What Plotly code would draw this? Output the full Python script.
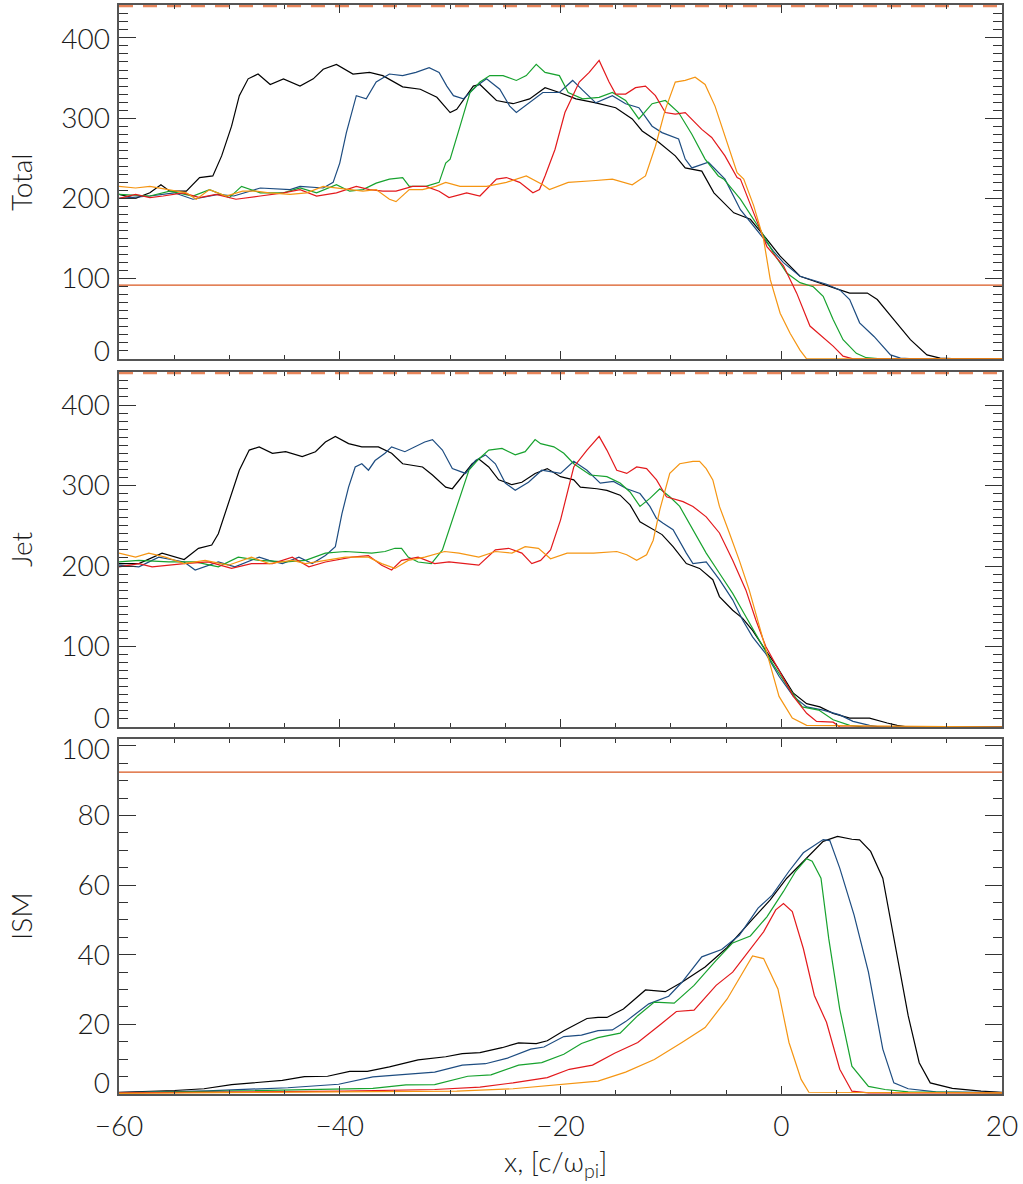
import plotly.graph_objects as go

# ---------------- data: Total panel ----------------
tot_black_x = [-60, -58.5, -57.2, -56.2, -55.4, -53.9, -52.7, -51.5, -50.7, -49.8, -49.1, -48.3, -47.4, -46.3, -45.1, -43.6, -42.4, -41.5, -40.3, -38.8, -37.3, -36.1, -34.3, -32.7, -31.2, -30.0, -29.4, -27.9, -27.3, -25.8, -24.3, -22.8, -21.4, -20.1, -18.6, -16.8, -15.0, -13.5, -12.6, -11.1, -9.6, -8.7, -7.2, -6.1, -4.3, -2.8, -1.3, -0.1, 1.7, 2.6, 3.8, 5.3, 6.2, 7.8, 8.7, 10.2, 11.7, 13.2, 14.4, 16, 20]
tot_black_y = [205, 200, 207, 217, 209, 209, 226, 228, 253, 290, 328, 349, 355, 342, 349, 340, 349, 361, 367, 355, 357, 353, 339, 336, 326, 307, 311, 340, 342, 322, 318, 324, 338, 332, 324, 319, 313, 299, 284, 270, 253, 238, 234, 207, 182, 174, 149, 128, 103, 99, 93, 86, 82, 82, 74, 49, 24, 5, 1, 0, 0]

tot_blue_x = [-60, -57.2, -55, -53.3, -51, -49.6, -47.2, -44.5, -43.6, -41.5, -40.6, -40.0, -39.4, -38.5, -37.6, -36.7, -35.5, -34.3, -33.1, -31.9, -31.0, -30.3, -29.7, -28.8, -27.6, -26.7, -25.5, -24.6, -24.0, -22.8, -21.6, -20.1, -18.9, -18.0, -16.8, -15.3, -14.1, -12.9, -11.7, -10.8, -9.3, -8.7, -8.1, -6.6, -5.1, -3.7, -2.5, -1.3, -0.7, 0.2, 1.7, 4.1, 5.3, 6.2, 7.1, 8.4, 9.9, 10.8, 12, 20]
tot_blue_y = [200, 203, 207, 199, 205, 203, 213, 211, 215, 213, 220, 244, 282, 328, 324, 345, 355, 353, 357, 363, 357, 340, 328, 324, 340, 349, 336, 315, 307, 319, 332, 332, 347, 335, 319, 328, 318, 313, 290, 282, 274, 249, 238, 245, 224, 186, 166, 145, 134, 120, 103, 93, 86, 74, 45, 28, 5, 1, 0, 0]

tot_green_x = [-60, -57.2, -55.4, -53.3, -51.8, -50.0, -48.9, -47.2, -45.1, -43.6, -42.1, -40.3, -39.1, -37.9, -36.7, -35.5, -34.3, -33.7, -32.2, -31.0, -30.4, -30.0, -29.1, -28.2, -27.3, -26.4, -25.2, -24.0, -23.1, -22.2, -21.4, -20.1, -19.3, -18.0, -16.5, -15.3, -14.1, -12.9, -11.7, -10.5, -9.3, -8.1, -6.9, -5.7, -5.2, -3.7, -1.9, -0.7, 0.5, 1.7, 2.9, 3.8, 4.7, 5.6, 6.8, 7.7, 9, 20]
tot_green_y = [205, 203, 209, 203, 211, 201, 215, 207, 207, 213, 207, 217, 209, 211, 219, 224, 226, 215, 215, 220, 244, 249, 290, 332, 345, 353, 353, 347, 353, 367, 357, 353, 332, 324, 326, 332, 322, 299, 318, 322, 307, 280, 249, 228, 224, 199, 161, 132, 107, 95, 90, 78, 49, 24, 7, 1.5, 0, 0]

tot_red_x = [-60, -58.5, -57.2, -56.0, -54.2, -52.7, -51.2, -49.4, -47.2, -45.1, -43.6, -42.1, -40.3, -38.5, -37.3, -36.1, -34.9, -33.4, -32.2, -31.0, -30.1, -28.5, -27.3, -25.8, -24.9, -23.7, -22.5, -21.9, -21.4, -20.5, -19.6, -18.3, -17.4, -16.5, -15.6, -15.0, -14.1, -13.2, -12.3, -11.4, -10.5, -9.6, -8.7, -7.2, -6.3, -5.1, -4.0, -3.7, -2.5, -1.3, 0.2, 1.4, 2.6, 3.5, 4.7, 5.6, 6.5, 20]
tot_red_y = [200, 205, 201, 203, 207, 201, 205, 199, 203, 207, 211, 203, 207, 215, 211, 209, 209, 215, 215, 209, 201, 207, 203, 224, 226, 220, 207, 211, 228, 261, 307, 345, 357, 372, 345, 330, 330, 338, 340, 328, 307, 305, 307, 286, 276, 253, 226, 224, 182, 140, 116, 82, 41, 30, 16, 3.5, 0, 0]

tot_orange_x = [-60, -58.5, -57.2, -55.4, -53.9, -53.0, -51.8, -50.3, -48.8, -47.6, -46.4, -44.5, -43.0, -41.5, -40.3, -39.1, -37.9, -36.7, -35.5, -34.9, -33.7, -32.5, -31.3, -30.4, -29.1, -26.7, -24.9, -23.1, -21.6, -21.0, -19.3, -17.1, -15.3, -13.5, -12.3, -11.4, -10.5, -9.6, -8.7, -7.8, -6.9, -6.0, -5.1, -4.0, -3.4, -2.5, -1.6, -1.0, -0.1, 0.8, 1.7, 2.3, 20]
tot_orange_y = [215, 213, 215, 211, 207, 199, 211, 203, 209, 209, 207, 205, 207, 215, 213, 211, 209, 211, 199, 196, 211, 211, 215, 220, 215, 215, 220, 228, 217, 211, 220, 222, 224, 217, 228, 265, 311, 345, 347, 351, 342, 315, 278, 232, 224, 191, 149, 99, 57, 32, 11, 0, 0]

# ---------------- data: Jet panel ----------------
jet_black_x = [-60, -58.2, -56.1, -54.1, -52.8, -51.6, -51.0, -50.1, -49.1, -48.2, -47.3, -46.1, -44.9, -43.4, -42.2, -41.3, -40.4, -39.2, -38.0, -36.5, -35.3, -34.3, -32.5, -31.6, -30.4, -29.8, -28.9, -28.0, -27.4, -26.5, -25.6, -24.4, -23.5, -22.3, -21.2, -20.0, -18.8, -18.2, -16.7, -15.8, -14.6, -13.7, -12.8, -11.6, -10.8, -9.8, -8.6, -7.4, -6.2, -5.6, -4.4, -3.5, -2.6, -1.4, -0.4, 1.1, 2.3, 3.5, 4.7, 6.2, 8.0, 9.6, 10.5, 11.5, 20]
jet_black_y = [203, 203, 216, 208, 222, 226, 240, 278, 319, 344, 348, 340, 342, 336, 342, 354, 361, 352, 348, 348, 340, 327, 323, 313, 298, 296, 311, 327, 333, 323, 307, 301, 304, 315, 321, 311, 307, 298, 296, 294, 288, 276, 255, 245, 239, 224, 203, 197, 183, 162, 145, 135, 120, 95, 75, 42, 29, 25, 17, 11, 11, 5, 2, 0, 0]

jet_blue_x = [-60, -58.2, -56.4, -54.1, -53.1, -51.0, -49.5, -47.3, -46.4, -45.2, -43.7, -42.5, -41.3, -40.4, -39.8, -39.2, -38.6, -38.0, -37.4, -36.8, -35.9, -35.3, -34.1, -33.2, -32.3, -31.6, -30.7, -29.8, -28.6, -27.7, -26.8, -25.9, -25.0, -24.1, -22.9, -21.7, -20.0, -18.8, -17.6, -16.4, -15.2, -14.0, -12.8, -11.9, -11.3, -10.7, -9.8, -8.6, -8.0, -6.8, -5.6, -4.4, -3.5, -2.6, -1.4, -0.2, 1.1, 2.3, 3.8, 5.3, 6.5, 8.0, 9, 20]
jet_blue_y = [201, 199, 211, 205, 195, 205, 199, 211, 207, 203, 211, 203, 213, 224, 265, 298, 323, 327, 319, 331, 340, 348, 342, 348, 354, 357, 344, 321, 315, 331, 338, 327, 303, 294, 304, 319, 315, 330, 319, 303, 305, 296, 290, 274, 259, 253, 245, 216, 203, 205, 183, 158, 133, 112, 91, 63, 38, 25, 21, 15, 7, 2, 0, 0]

jet_green_x = [-60, -58.2, -55.5, -53.1, -51.0, -49.2, -47.3, -44.9, -43.1, -41.3, -39.5, -37.1, -35.9, -35.0, -34.4, -33.8, -32.9, -31.7, -30.7, -30.1, -29.2, -28.3, -27.4, -26.5, -25.3, -24.1, -23.2, -22.3, -21.8, -20.6, -19.7, -18.8, -17.3, -15.8, -14.6, -13.7, -12.8, -11.9, -11.0, -10.1, -9.2, -8.0, -6.8, -5.6, -4.4, -3.2, -2.0, -0.8, 0.4, 1.9, 3.4, 4.7, 6.2, 7.5, 20]
jet_green_y = [205, 207, 205, 205, 199, 211, 207, 205, 207, 216, 218, 216, 218, 222, 222, 211, 205, 203, 220, 245, 282, 319, 333, 344, 346, 338, 342, 357, 352, 348, 340, 327, 313, 311, 303, 292, 274, 284, 296, 286, 274, 245, 216, 191, 166, 137, 108, 79, 54, 25, 21, 9, 2, 0, 0]

jet_red_x = [-60, -58.2, -57.0, -54.1, -51.9, -49.8, -48.0, -46.1, -44.3, -42.8, -41.3, -38.9, -37.4, -36.2, -35.3, -34.4, -32.9, -31.4, -30.1, -28.6, -27.4, -25.9, -24.7, -23.5, -22.6, -21.8, -20.9, -20.0, -18.8, -17.6, -16.5, -15.8, -14.9, -14.0, -13.1, -12.2, -11.3, -10.4, -8.9, -8.0, -6.8, -5.6, -4.4, -3.2, -2.3, -1.4, -0.2, 1.1, 2.3, 3.2, 4.7, 5.3, 20]
jet_red_y = [199, 203, 199, 203, 205, 197, 203, 203, 211, 199, 205, 211, 213, 201, 195, 207, 211, 203, 205, 203, 201, 220, 222, 216, 203, 207, 220, 257, 323, 344, 361, 344, 319, 315, 323, 321, 307, 286, 280, 274, 261, 241, 207, 170, 133, 100, 71, 38, 17, 7, 6, 0, 0]

jet_orange_x = [-60, -58.5, -57.3, -55.8, -54.1, -52.2, -50.1, -48.0, -46.4, -44.3, -43.1, -41.3, -39.5, -37.4, -36.2, -35.0, -33.8, -32.3, -30.5, -29.2, -27.4, -25.9, -24.4, -23.2, -22.0, -20.9, -19.4, -17.0, -14.9, -14.0, -13.1, -12.2, -11.6, -11.0, -10.1, -9.2, -8.0, -7.4, -6.8, -6.2, -5.6, -4.7, -3.8, -2.9, -2.0, -1.1, -0.2, 1.0, 2.3, 20]
jet_orange_y = [216, 211, 216, 211, 203, 207, 201, 211, 203, 207, 203, 207, 211, 211, 203, 197, 207, 211, 218, 216, 211, 218, 216, 224, 222, 209, 216, 216, 218, 214, 207, 214, 232, 270, 315, 327, 330, 330, 321, 307, 274, 241, 207, 170, 125, 83, 38, 11, 2, 0]

# ---------------- data: ISM panel ----------------
ism_black_x = [-60, -55, -52.3, -49.8, -45.2, -43.2, -41.1, -39.1, -37.5, -35.5, -32.9, -30.4, -28.9, -27.3, -25.3, -23.8, -22.2, -21.2, -19.7, -17.6, -16.6, -15.8, -14.3, -12.3, -10.5, -9.0, -6.9, -4.9, -2.8, -1.0, 0.5, 2.3, 3.8, 5.1, 6.4, 7.1, 8.1, 9.2, 10.4, 11.5, 12.5, 13.5, 15.5, 18.1, 20]
ism_black_y = [0.5, 1.0, 1.5, 2.7, 3.9, 5.0, 5.1, 6.5, 6.5, 7.8, 9.8, 10.7, 11.6, 11.9, 13.3, 14.7, 14.5, 15.3, 18.2, 21.7, 22.0, 22.0, 24.4, 29.9, 29.4, 32.1, 36.5, 42.1, 49.5, 55.8, 62.0, 67.8, 72.6, 74.0, 73.2, 73.0, 69.7, 62.0, 41.8, 22.5, 9.0, 3.2, 1.6, 0.8, 0.5]

ism_blue_x = [-60, -52, -44.7, -40.1, -37.0, -34.5, -31.4, -28.9, -26.8, -24.8, -22.7, -21.5, -19.7, -18.1, -16.6, -15.3, -14.1, -12.0, -10.2, -9.0, -7.2, -5.4, -3.8, -2.1, -0.8, 0.7, 2.0, 3.8, 4.4, 5.3, 6.6, 7.9, 9.2, 10.2, 11.5, 14, 20]
ism_blue_y = [0.4, 0.9, 1.8, 2.8, 4.9, 5.6, 6.3, 8.3, 8.7, 10.3, 12.9, 13.5, 16.5, 16.9, 18.2, 18.4, 20.8, 25.9, 28.1, 32.1, 39.4, 41.5, 45.6, 53.4, 57.2, 64.0, 69.3, 73.1, 72.8, 64.9, 51.4, 35.0, 12.9, 3.2, 1.5, 0.6, 0.4]

ism_green_x = [-60, -50, -40.1, -37.0, -34.0, -31.4, -28.4, -26.3, -23.8, -21.7, -19.7, -18.1, -16.6, -14.6, -13.0, -11.5, -9.7, -7.9, -5.9, -4.4, -2.8, -1.3, 0.2, 1.3, 2.3, 2.8, 3.6, 4.3, 5.3, 6.4, 7.9, 9.4, 11.5, 20]
ism_green_y = [0.3, 0.8, 1.5, 1.6, 2.6, 2.7, 5.1, 5.5, 8.3, 9.0, 11.4, 14.5, 16.2, 17.5, 22.5, 26.4, 26.1, 31.2, 38.4, 43.4, 45.4, 50.9, 58.2, 64.0, 67.6, 66.9, 62.0, 44.7, 24.4, 8.0, 2.2, 1.3, 0.6, 0.3]

ism_red_x = [-60, -50, -39.6, -31.4, -27.3, -24.3, -21.2, -19.2, -17.1, -15.1, -13.0, -11.0, -9.5, -7.9, -5.9, -4.4, -2.8, -1.6, -0.5, 0.2, 1.0, 2.0, 3.0, 4.1, 5.3, 6.4, 7.9, 20]
ism_red_y = [0.3, 0.5, 0.8, 1.3, 2.0, 3.2, 4.7, 7.1, 8.3, 11.7, 14.8, 19.8, 23.7, 24.1, 31.2, 35.0, 41.8, 46.6, 52.9, 54.7, 52.4, 41.8, 28.3, 20.6, 7.1, 0.8, 0.3, 0.3]

ism_orange_x = [-60, -45, -29.4, -24.3, -19.7, -16.6, -14.1, -11.5, -9.0, -6.9, -4.9, -3.3, -2.6, -1.6, -0.3, 0.7, 1.8, 2.5, 20]
ism_orange_y = [0.2, 0.4, 0.8, 1.5, 2.7, 3.7, 6.3, 9.9, 14.8, 19.1, 27.3, 36.0, 39.7, 38.9, 30.2, 14.8, 4.2, 0.5, 0.3]

# reference levels
ref_level_total = 92
ref_level_ism = 92.5
dashed_level = 440

panel_names = ["Total", "Jet", "ISM"]
x_range = [-60, 20]
y_ranges = [[0, 441], [0, 441], [0, 102]]
y_label_vals = [[10, 100, 200, 300, 398], [11, 100, 200, 300, 400], [3, 20, 40, 60, 80, 99]]
y_label_text = [["0", "100", "200", "300", "400"], ["0", "100", "200", "300", "400"], ["0", "20", "40", "60", "80", "100"]]

colors = {"black": "#000000", "blue": "#1d4c80", "green": "#17a22e",
          "red": "#e3191c", "orange": "#f59512"}

FONT = "Lato"
fig = go.Figure()

panels = [
    [(tot_black_x, tot_black_y, "black"), (tot_blue_x, tot_blue_y, "blue"), (tot_green_x, tot_green_y, "green"),
     (tot_red_x, tot_red_y, "red"), (tot_orange_x, tot_orange_y, "orange")],
    [(jet_black_x, jet_black_y, "black"), (jet_blue_x, jet_blue_y, "blue"), (jet_green_x, jet_green_y, "green"),
     (jet_red_x, jet_red_y, "red"), (jet_orange_x, jet_orange_y, "orange")],
    [(ism_black_x, ism_black_y, "black"), (ism_blue_x, ism_blue_y, "blue"), (ism_green_x, ism_green_y, "green"),
     (ism_red_x, ism_red_y, "red"), (ism_orange_x, ism_orange_y, "orange")],
]

for i, curves in enumerate(panels):
    xa = "x" if i == 0 else f"x{i+1}"
    ya = "y" if i == 0 else f"y{i+1}"
    if i in (0, 1):
        fig.add_trace(go.Scatter(x=x_range, y=[dashed_level, dashed_level], mode="lines",
                                 line=dict(color="#e8855a", width=3, dash="14px,10px"),
                                 xaxis=xa, yaxis=ya, showlegend=False, hoverinfo="skip"))
    if i == 0:
        fig.add_trace(go.Scatter(x=x_range, y=[ref_level_total] * 2, mode="lines",
                                 line=dict(color="#d9571f", width=1.3), xaxis=xa, yaxis=ya,
                                 showlegend=False, hoverinfo="skip"))
    if i == 2:
        fig.add_trace(go.Scatter(x=x_range, y=[ref_level_ism] * 2, mode="lines",
                                 line=dict(color="#d9571f", width=1.3), xaxis=xa, yaxis=ya,
                                 showlegend=False, hoverinfo="skip"))
    for xs, ys, c in curves:
        fig.add_trace(go.Scatter(x=xs, y=ys, mode="lines", line=dict(color=colors[c], width=1.2),
                                 xaxis=xa, yaxis=ya, showlegend=False))

domains = [[0.675, 1.0], [0.337, 0.663], [0.0, 0.326]]
axis_col = "#555555"
tick_col = "#333333"
tick_font = dict(family=FONT, size=28, color="#1a1a1a", weight=300)

layout = dict(
    width=1023, height=1184,
    margin=dict(l=119, r=21, t=5, b=90, autoexpand=False),
    paper_bgcolor="white", plot_bgcolor="white",
    font=dict(family=FONT, size=28, color="#1a1a1a", weight=300),
    showlegend=False,
)

for i in range(3):
    xk = "xaxis" if i == 0 else f"xaxis{i+1}"
    yk = "yaxis" if i == 0 else f"yaxis{i+1}"
    ya = "y" if i == 0 else f"y{i+1}"
    xa = "x" if i == 0 else f"x{i+1}"
    layout[xk] = dict(
        domain=[0, 1], anchor=ya, range=x_range, tick0=-60, dtick=20,
        ticks="inside", ticklen=8, tickwidth=1.2, tickcolor=tick_col,
        minor=dict(ticks="inside", ticklen=4, dtick=5, tickcolor=tick_col, tickwidth=1),
        showline=True, linecolor=axis_col, linewidth=2, mirror="ticks",
        showgrid=False, zeroline=False, showticklabels=(i == 2),
        tickfont=tick_font, ticklabelstandoff=6, automargin=False,
    )
    if i > 0:
        layout[xk]["matches"] = "x"
    major = 100 if i < 2 else 20
    minor = 10 if i < 2 else 5
    layout[yk] = dict(
        domain=domains[i], anchor=xa, range=y_ranges[i], tick0=0, dtick=major,
        ticks="inside", ticklen=17, tickwidth=1.2, tickcolor=tick_col,
        minor=dict(ticks="inside", ticklen=9, dtick=minor, tickcolor=tick_col, tickwidth=1),
        showline=True, linecolor=axis_col, linewidth=2, mirror="ticks",
        showgrid=False, zeroline=False, showticklabels=False, automargin=False,
    )
    # label-only overlay axis (IDL nudges end labels inward)
    lk = f"yaxis{i+4}"
    layout[lk] = dict(
        overlaying=ya, anchor=xa, side="left", range=y_ranges[i],
        tickmode="array", tickvals=y_label_vals[i], ticktext=y_label_text[i],
        ticks="", showline=False, showgrid=False, zeroline=False,
        tickfont=tick_font, ticklabelstandoff=8, automargin=False,
    )
    fig.add_trace(go.Scatter(x=[x_range[0]], y=[y_ranges[i][0]], mode="markers",
                             marker=dict(size=1, opacity=0), xaxis=xa, yaxis=f"y{i+4}",
                             showlegend=False, hoverinfo="skip"))

fig.update_layout(**layout)

label_y = [(1094 - 182) / 1089, (1094 - 549) / 1089, (1094 - 916) / 1089]
for name, yy in zip(panel_names, label_y):
    fig.add_annotation(text=name, xref="paper", yref="paper", x=-0.111, y=yy,
                       xanchor="center", yanchor="middle", textangle=-90, showarrow=False,
                       font=dict(family=FONT, size=28, color="#1a1a1a", weight=300))

fig.add_annotation(text="x, [c/ω<sub>pi</sub>]", xref="paper", yref="paper", x=0.494,
                   y=(1094 - 1163) / 1089, xanchor="center", yanchor="middle", showarrow=False,
                   font=dict(family=FONT, size=28, color="#1a1a1a", weight=300))

fig.write_html("out.html")
